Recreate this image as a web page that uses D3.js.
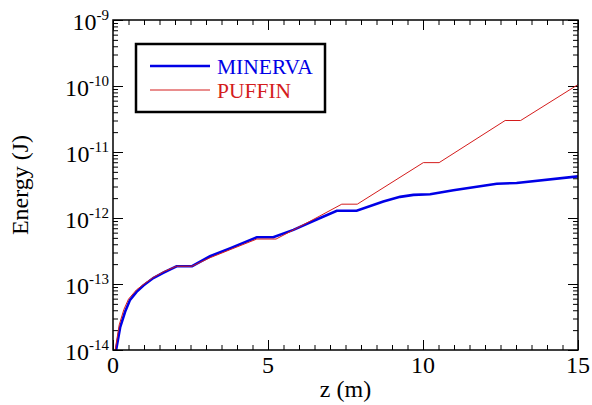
<!doctype html>
<html lang="en">
<head>
<meta charset="utf-8">
<title>Energy vs z</title>
<script src="https://cdn.jsdelivr.net/npm/d3@7"></script>
<style>
  body { margin: 0; background: #fff; }
  svg { display: block; font-family: "Liberation Serif", "Times New Roman", serif; }
</style>
</head>
<body>
<svg id="chart" width="592" height="405"></svg>
<script>
// data: z in metres, energy in joules
var minervaZ = [0.1, 0.23, 0.39, 0.55, 0.76, 0.98, 1.30, 1.62, 2.05, 2.55, 3.13, 3.77, 4.64, 5.17,
                5.82, 6.57, 7.22, 7.86, 8.72, 9.26, 9.69, 10.23, 10.98, 12.38, 13.02, 15.0];
var minervaE = [1.0e-14, 2.2e-14, 3.8e-14, 5.75e-14, 7.6e-14, 9.5e-14, 1.23e-13, 1.48e-13, 1.86e-13, 1.86e-13,
                2.63e-13, 3.47e-13, 5.1e-13, 5.1e-13, 6.6e-13, 9.5e-13, 1.29e-12, 1.29e-12, 1.78e-12, 2.09e-12,
                2.24e-12, 2.29e-12, 2.63e-12, 3.31e-12, 3.39e-12, 4.27e-12];

var puffinZ = [0.07, 0.2, 0.35, 0.5, 0.75, 1.0, 1.3, 1.65, 2.05, 2.55, 3.13, 3.77, 4.64, 5.26,
               6.35, 7.38, 7.88, 10.01, 10.52, 12.65, 13.15, 15.0];
var puffinE = [1.0e-14, 2.4e-14, 4.1e-14, 5.9e-14, 8.1e-14, 1.0e-13, 1.26e-13, 1.55e-13, 1.86e-13, 1.86e-13,
               2.5e-13, 3.3e-13, 4.8e-13, 4.8e-13, 8.9e-13, 1.62e-12, 1.62e-12, 6.9e-12, 6.9e-12,
               3.0e-11, 3.0e-11, 1.05e-10];

var xTicks = [0, 5, 10, 15];
var yPowers = [-14, -13, -12, -11, -10, -9];
var seriesNames = ["MINERVA", "PUFFIN"];

var svg = d3.select("#chart");
// plot box (window.top is read-only, so no "top" here)
var pL = 113, pR = 578, pT = 20, pB = 350;

var x = d3.scaleLinear().domain([0, 15]).range([pL, pR]);
var y = d3.scaleLog().domain([1e-14, 1e-9]).range([pB, pT]);

var yMajor = yPowers.map(function(p) { return Math.pow(10, p); });
var yMinor = [];
yPowers.slice(0, -1).forEach(function(p) {
  for (var k = 2; k <= 9; k++) yMinor.push(k * Math.pow(10, p));
});
var xMinor = d3.range(0.5, 15, 0.5).filter(function(v) { return v % 5 !== 0; });

// axes: ticks point inward
function tickAxis(axisFn, scale, values, size, pos) {
  var g = svg.append("g").attr("transform", pos)
    .call(axisFn(scale).tickValues(values).tickSizeInner(-size).tickSizeOuter(0).tickFormat(""));
  g.select(".domain").remove();
  g.selectAll("line").attr("stroke", "#000").attr("stroke-width", 1);
  return g;
}

tickAxis(d3.axisBottom, x, xMinor, 5, "translate(0," + pB + ")");
tickAxis(d3.axisBottom, x, xTicks, 10, "translate(0," + pB + ")");
tickAxis(d3.axisTop, x, xMinor, 5, "translate(0," + pT + ")");
tickAxis(d3.axisTop, x, xTicks, 10, "translate(0," + pT + ")");
tickAxis(d3.axisLeft, y, yMinor, 5, "translate(" + pL + ",0)");
tickAxis(d3.axisLeft, y, yMajor, 10, "translate(" + pL + ",0)");
tickAxis(d3.axisRight, y, yMinor, 5, "translate(" + pR + ",0)");
tickAxis(d3.axisRight, y, yMajor, 10, "translate(" + pR + ",0)");

// x labels
svg.append("g").selectAll("text").data(xTicks).enter().append("text")
  .attr("x", function(d) { return x(d); })
  .attr("y", pB + 23)
  .attr("text-anchor", "middle")
  .attr("font-size", 24)
  .text(String);

// y labels, 10^p
var yl = svg.append("g").selectAll("text").data(yPowers).enter().append("text")
  .attr("x", pL - 4)
  .attr("y", function(d) { return y(Math.pow(10, d)) + 9.5; })
  .attr("text-anchor", "end")
  .attr("font-size", 24);
yl.append("tspan").text("10");
yl.append("tspan").attr("dy", -10).attr("font-size", 15).text(function(d) { return String(d); });

// titles
svg.append("text")
  .attr("x", (pL + pR) / 2).attr("y", 397)
  .attr("text-anchor", "middle").attr("font-size", 24)
  .text("z (m)");
svg.append("text")
  .attr("transform", "translate(28," + ((pT + pB) / 2) + ") rotate(-90)")
  .attr("text-anchor", "middle").attr("font-size", 24)
  .text("Energy (J)");

// lines
svg.append("clipPath").attr("id", "clip").append("rect")
  .attr("x", pL).attr("y", pT).attr("width", pR - pL).attr("height", pB - pT);

var line = d3.line()
  .x(function(d) { return x(d[0]); })
  .y(function(d) { return y(d[1]); });

var puffin = d3.zip(puffinZ, puffinE);
var minerva = d3.zip(minervaZ, minervaE);

svg.append("path").datum(minerva)
  .attr("clip-path", "url(#clip)")
  .attr("fill", "none").attr("stroke", "#0000e6").attr("stroke-width", 2.6)
  .attr("d", line);
svg.append("path").datum(puffin)
  .attr("clip-path", "url(#clip)")
  .attr("fill", "none").attr("stroke", "#d41c1c").attr("stroke-width", 1)
  .attr("d", line);

// frame
svg.append("rect")
  .attr("x", pL).attr("y", pT).attr("width", pR - pL).attr("height", pB - pT)
  .attr("fill", "none").attr("stroke", "#000").attr("stroke-width", 1.5);

// legend
var legend = svg.append("g");
legend.append("rect")
  .attr("x", 136).attr("y", 44).attr("width", 189).attr("height", 68)
  .attr("fill", "#fff").attr("stroke", "#000").attr("stroke-width", 2.5);
var colors = ["#0000e6", "#d41c1c"];
var widths = [2.6, 1];
seriesNames.forEach(function(name, i) {
  var ly = 66 + i * 24;
  legend.append("line")
    .attr("x1", 150).attr("x2", 210).attr("y1", ly).attr("y2", ly)
    .attr("stroke", colors[i]).attr("stroke-width", widths[i]);
  legend.append("text")
    .attr("x", 217).attr("y", ly + 8)
    .attr("font-size", 21.5).attr("fill", colors[i])
    .text(name);
});
</script>
</body>
</html>
